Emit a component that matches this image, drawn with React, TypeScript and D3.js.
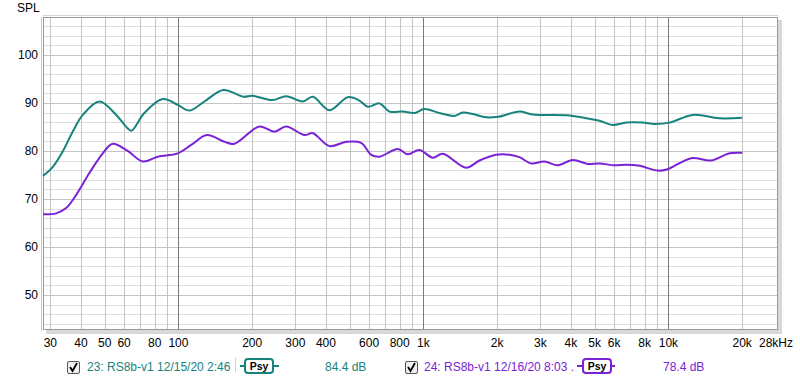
import React from "react";
import * as d3 from "d3";

const tealFreq = [28, 30.7, 33.7, 37.0, 40.7, 47.6, 55.7, 62.1, 64.3, 72.6, 86.3, 99.3, 110.9, 127.7, 152.6, 184.2, 200.5, 241.9, 275.3, 321.7, 353.4, 413.4, 491, 548, 592.6, 661.4, 726.4, 823, 919, 1009, 1162, 1338, 1447, 1589, 1803, 2011, 2465, 2793, 3944, 4614, 5230, 5926, 6720, 7857, 8769, 10094, 12569, 16152, 20000];
const tealDb = [74.8, 76.7, 79.9, 84.0, 87.5, 90.3, 87.5, 84.7, 84.2, 87.9, 90.8, 89.6, 88.4, 90.3, 92.7, 91.3, 91.5, 90.6, 91.4, 90.3, 91.3, 88.5, 91.2, 90.5, 89.2, 89.9, 88.2, 88.2, 87.9, 88.75, 87.9, 87.3, 88.0, 87.7, 87.0, 87.1, 88.2, 87.6, 87.4, 86.8, 86.3, 85.4, 85.9, 85.9, 85.6, 85.9, 87.5, 86.8, 86.9];

const purpleFreq = [28, 31.7, 34.8, 38.2, 43.3, 49.1, 53.9, 62.1, 71.5, 82.3, 99.3, 112.7, 130.7, 154, 169.3, 214.1, 246.5, 275.3, 326.9, 353.4, 413.4, 483.6, 556.9, 611.7, 661.4, 785.7, 862.9, 963.2, 1091, 1199, 1494, 1693, 1980, 2244, 2465, 2752, 3118, 3533, 4069, 4684, 5230, 6021, 6720, 7615, 9044, 9934, 12381, 14939, 17743, 20000];
const purpleDb = [66.8, 67.0, 68.1, 70.8, 75.4, 79.5, 81.5, 80.0, 77.8, 78.8, 79.5, 81.25, 83.3, 81.9, 81.5, 85.1, 84.0, 85.1, 83.3, 83.7, 81.0, 81.9, 81.7, 79.2, 78.8, 80.4, 79.3, 80.2, 78.6, 79.4, 76.5, 78.0, 79.2, 79.2, 78.7, 77.4, 77.8, 77.0, 78.1, 77.3, 77.4, 77.0, 77.1, 76.9, 75.9, 76.2, 78.5, 78.0, 79.5, 79.6];

const yTicks = [50, 60, 70, 80, 90, 100];
const xTickValues = [30, 40, 50, 60, 80, 100, 200, 300, 400, 600, 800, 1000, 2000, 3000, 4000, 5000, 6000, 8000, 10000, 20000];
const xTickLabels = ["30", "40", "50", "60", "80", "100", "200", "300", "400", "600", "800", "1k", "2k", "3k", "4k", "5k", "6k", "8k", "10k", "20k"];
const xEndLabel = "28kHz";

const series = [
  { name: "23: RS8b-v1 12/15/20 2:46", level: "84.4 dB", color: "#16837d", freq: tealFreq, db: tealDb },
  { name: "24: RS8b-v1 12/16/20 8:03 .", level: "78.4 dB", color: "#7a22d6", freq: purpleFreq, db: purpleDb },
];

const FONT = "'Liberation Sans', Arial, sans-serif";

export default function App() {
  const L = 43, R = 778, T = 17, B = 330;
  const x = d3.scaleLog().domain([28, 28000]).range([L, R]);
  const y = d3.scaleLinear().domain([42.7, 107.9]).range([B, T]);

  const gridX: number[] = [];
  for (let dec = 10; dec <= 10000; dec *= 10) {
    for (let m = 1; m <= 9; m++) {
      const f = dec * m;
      if (f >= 30 && f <= 20000) gridX.push(f);
    }
  }
  gridX.push(20000);
  const gridY: number[] = [];
  for (let v = 44; v <= 106; v += 2) gridY.push(v);

  const line = d3
    .line<[number, number]>()
    .x((d) => x(d[0]))
    .y((d) => y(d[1]))
    .curve(d3.curveCatmullRom.alpha(0.5));

  const legendPos = [
    { cb: 67, text: 87, sep: 235, lineA: 240, boxA: 245, boxB: 273, lineB: 279, lvl: 325 },
    { cb: 405, text: 424, sep: -1, lineA: 577, boxA: 583, boxB: 611, lineB: 615, lvl: 663 },
  ];

  return (
    <svg width={800} height={382} style={{ position: "absolute", left: 0, top: 0, background: "#fff" }} fontFamily={FONT}>
      <rect x={0} y={0} width={800} height={382} fill="#fff" />
      {/* shadow */}
      <rect x={L + 3} y={B} width={R - L} height={4} fill="#d8d8d8" />
      <rect x={R} y={T + 3} width={4} height={B - T + 1} fill="#d8d8d8" />
      <rect x={L} y={T} width={R - L} height={B - T} fill="#fff" />
      {gridY.map((v) => (
        <line key={"gy" + v} x1={L} x2={R} y1={Math.round(y(v)) + 0.5} y2={Math.round(y(v)) + 0.5}
          stroke={v % 10 === 0 ? "#c4c4c4" : "#dedede"} strokeWidth={1} />
      ))}
      {gridX.map((f) => {
        const major = f === 100 || f === 1000 || f === 10000;
        const px = Math.round(x(f)) + 0.5;
        return <line key={"gx" + f} x1={px} x2={px} y1={T} y2={B} stroke={major ? "#7a7a7a" : "#c4c4c4"} strokeWidth={1} />;
      })}
      <rect x={L + 0.5} y={T + 0.5} width={R - L - 1} height={B - T - 1} fill="none" stroke="#9a9a9a" strokeWidth={1} />
      <line x1={L - 1.5} x2={L - 1.5} y1={T} y2={B + 1} stroke="#c8c8c8" strokeWidth={1} />
      <line x1={L} x2={R} y1={T - 1.5} y2={T - 1.5} stroke="#d4d4d4" strokeWidth={1} />

      {series.map((s) => (
        <path key={s.name} d={line(s.freq.map((f, i) => [f, s.db[i]] as [number, number])) || ""}
          fill="none" stroke={s.color} strokeWidth={2} strokeLinejoin="round" />
      ))}

      <text x={17} y={12} fontSize={12} fill="#000">SPL</text>
      {yTicks.map((v) => (
        <text key={"yt" + v} x={38} y={y(v) + 4.5} fontSize={12} textAnchor="end" fill="#000">{v}</text>
      ))}
      {xTickValues.map((f, i) => (
        <text key={"xt" + f} x={x(f)} y={347} fontSize={12} textAnchor="middle" fill="#000">{xTickLabels[i]}</text>
      ))}
      <text x={793} y={347} fontSize={12} textAnchor="end" fill="#000">{xEndLabel}</text>

      {series.map((s, i) => {
        const p = legendPos[i];
        return (
          <g key={"lg" + i}>
            <rect x={p.cb + 0.5} y={361.5} width={12} height={12} rx={1.5} fill="#f0f0f0" stroke="#555" strokeWidth={1} />
            <path d={`M${p.cb + 3},${367} L${p.cb + 5.5},${371} L${p.cb + 10},${363}`} fill="none" stroke="#000" strokeWidth={1.8} />
            <text x={p.text} y={371} fontSize={12} fill={s.color}>{s.name}</text>
            {p.sep > 0 && <line x1={p.sep + 0.5} x2={p.sep + 0.5} y1={358} y2={372} stroke="#d0d0d0" />}
            <line x1={p.lineA} x2={p.lineB} y1={366} y2={366} stroke={s.color} strokeWidth={2} />
            <rect x={p.boxA} y={359} width={p.boxB - p.boxA} height={14} rx={3} fill="#fff" stroke={s.color} strokeWidth={2} />
            <text x={(p.boxA + p.boxB) / 2} y={370} fontSize={10.5} textAnchor="middle" fill="#000" fontWeight="bold">Psy</text>
            <text x={p.lvl} y={371} fontSize={12} fill={s.color}>{s.level}</text>
          </g>
        );
      })}
    </svg>
  );
}
